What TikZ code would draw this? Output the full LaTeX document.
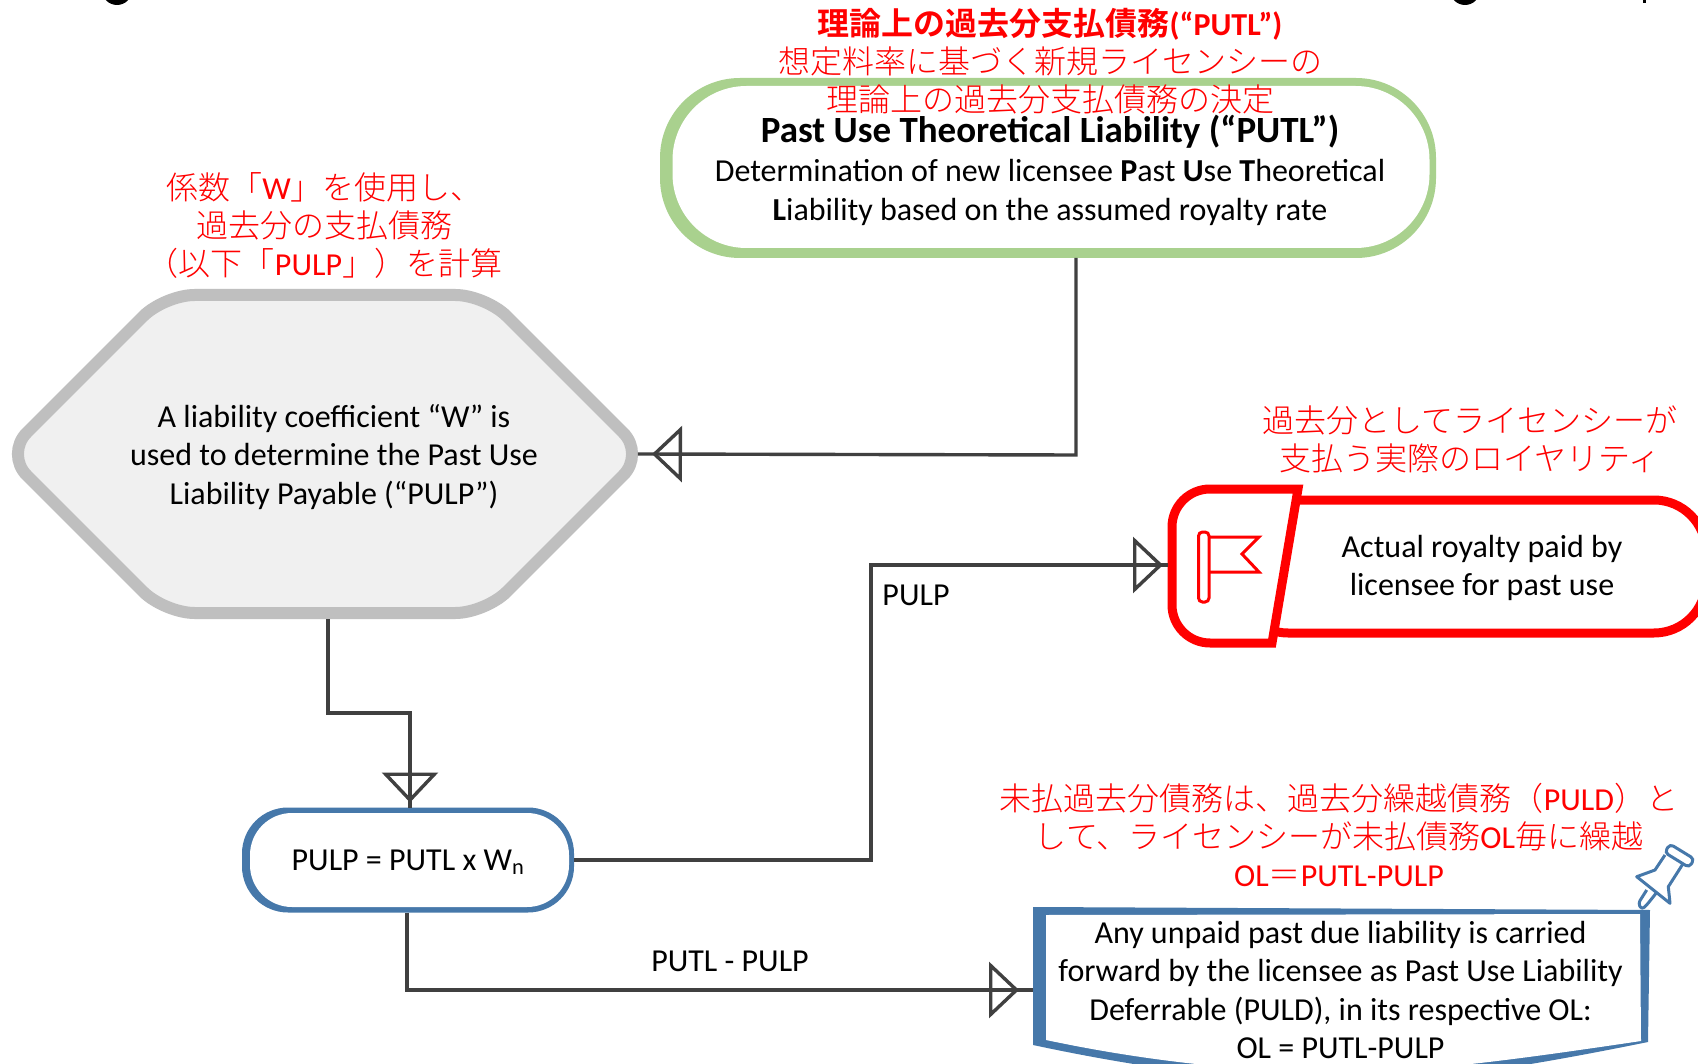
\documentclass[tikz,border=0pt]{standalone}
\usepackage{fontspec}
\setmainfont{Carlito}
\newfontfamily\cjk[BoldFont={Noto Sans CJK JP Bold}]{Noto Sans CJK JP Light}
\usetikzlibrary{arrows.meta,decorations.markings,shapes.symbols}
\definecolor{lgreen}{RGB}{169,209,142}
\definecolor{lblue}{RGB}{70,120,170}
\definecolor{lgray}{RGB}{191,191,191}
\definecolor{sgray}{RGB}{240,240,240}
\definecolor{dgray}{RGB}{64,64,64}
\definecolor{lred}{RGB}{255,0,0}
\tikzset{
  blacktext/.style={align=center,font=\fontsize{32}{38.4}\selectfont,text=black},
  redtext/.style={align=center,font=\fontsize{32}{38}\selectfont,text=lred},
  flowline/.style={draw=dgray,line width=3.4pt,postaction={decorate},
    decoration={markings,mark=at position -#1 with {\arrow{Triangle[open,length=30pt,width=56pt,line width=3.4pt]}}}},
  flowline/.default=5pt,
  linelabel/.style={font=\fontsize{32}{38}\selectfont,text=black},
  outerbox/.style={fill=#1,inner sep=0pt,outer sep=0pt},
  innerbox/.style={fill=white,inner sep=0pt,outer sep=0pt}
}
\begin{document}
\begin{tikzpicture}[x=1pt,y=-1pt]
  \clip (0,0) rectangle (1698,1064);
  \fill[white] (0,0) rectangle (1698,1064);

  % cut off title
  \fill (117,-10) circle (15);
  \fill (1465,-10) circle (15);
  \fill (1643,0) rectangle (1646,3);

  % theoretical liability
  \node (putl) [outerbox=lgreen,rounded corners=80pt,minimum width=776pt,minimum height=180pt] at (1048,168) {};
  \node (putlin) [innerbox,rounded corners=74pt,minimum width=757pt,minimum height=162pt] at (1051,167) {};
  \node (putltext) [blacktext] at (1050,170) {{\fontsize{37}{41}\selectfont\bfseries Past Use Theoretical Liability (“PUTL”)}\\[1pt]
    Determination of new licensee \textbf{P}ast \textbf{U}se \textbf{T}heoretical\\
    \textbf{L}iability based on the assumed royalty rate};
  \node (putlred) [redtext] at (1050,61) {{\bfseries\cjk 理論上の過去分支払債務}\textbf{(“PUTL”)}\\
    {\cjk 想定料率に基づく新規ライセンシーの}\\
    {\cjk 理論上の過去分支払債務の決定}};

  % coefficient
  \node (coef) [signal,signal to=east and west,signal pointer angle=90,rounded corners=30pt,
    draw=lgray,fill=sgray,line width=12pt,minimum width=639pt,minimum height=318pt,inner sep=0pt,outer sep=6pt] at (325,454) {};
  \node (coeftext) [blacktext] at (334,457) {A liability coefficient “W” is\\used to determine the Past Use\\Liability Payable (“PULP”)};
  \node (coefred) [redtext] at (324.5,226) {{\cjk 係数「}W{\cjk 」を使用し、}\\
    {\cjk 過去分の支払債務}\\
    {\cjk （以下「}PULP{\cjk 」）を計算}};

  % formula
  \node (pulp) [outerbox=lblue,rounded corners=46pt,minimum width=332pt,minimum height=105pt] at (408,860) {};
  \node (pulpin) [innerbox,rounded corners=42pt,minimum width=319pt,minimum height=94pt] at (409.5,860) {};
  \node (pulptext) [blacktext] at (408,862) {PULP = PUTL x W\textsubscript{n}};

  % royalty
  \node (royalty) [draw=lred,line width=9pt,fill=white,rounded corners=52pt,minimum width=470pt,minimum height=133pt] at (1471,566.5) {};
  \draw[draw=lred,line width=9pt,fill=white] (1298,489) [rounded corners=38pt] -- (1172,489) -- (1172,643) [sharp corners] -- (1272,643) -- cycle;
  \coordinate (flagin) at (1168,565);
  \draw[draw=lred,line width=3pt,rounded corners=4pt] (1198.5,532) rectangle (1209,602);
  \draw[draw=lred,line width=3pt] (1209,537) -- (1259,537) -- (1242,554) -- (1259,572) -- (1209,572);
  \node (royaltytext) [blacktext] at (1482,568) {Actual royalty paid by\\licensee for past use};
  \node (royaltyred) [redtext] at (1470,439) {{\cjk 過去分としてライセンシーが}\\{\cjk 支払う実際のロイヤリティ}};

  % deferred part
  \fill[lblue] (1033,907) -- (1650,910) -- (1648,1042) .. controls (1500,1072) and (1420,1082) .. (1340,1082) .. controls (1250,1082) and (1150,1070) .. (1033,1045) -- cycle;
  \fill[white] (1046,915) -- (1640,914) -- (1641,1041) .. controls (1500,1062) and (1420,1072) .. (1340,1072) .. controls (1250,1072) and (1150,1062) .. (1046,1040) -- cycle;
  \node (puld) [blacktext,minimum width=615pt,outer sep=0pt] at (1340.5,990) {Any unpaid past due liability is carried\\
    forward by the licensee as Past Use Liability\\
    Deferrable (PULD), in its respective OL:\\
    OL = PUTL-PULP};
  \node (puldred) [redtext] at (1339,835) {{\cjk 未払過去分債務は、過去分繰越債務（}PULD{\cjk ）と}\\
    {\cjk して、ライセンシーが未払債務}OL{\cjk 毎に繰越}\\
    OL{\cjk ＝}PUTL-PULP};

  % pin
  \draw[draw=lblue,line width=3pt,line join=round,rounded corners=3pt] (1646.7,890) -- (1638.3,903.3) -- (1641.7,909.5) -- (1646.7,905) -- (1656,893.3);
  \draw[draw=lblue,line width=3pt,line join=round] (1665,855) -- (1655,870) -- (1636.7,876.7) -- (1670,903.3) -- (1668.3,886.7) -- (1683.3,863.3);
  \draw[draw=lblue,line width=3pt,rounded corners=4pt] (1669.9,844) -- (1694.3,859) -- (1689.1,867.5) -- (1664.7,852.5) -- cycle;

  % connectors
  \draw[flowline=14pt] (putl.south -| 1076,0) -- (1076,455) -- ([xshift=-15pt]coef.east);
  \draw[flowline] (coef.south -| 328,0) -- (328,713) -- (410,713) -- (pulp.north -| 410,0);
  \draw[flowline] (pulp.east) -- (871,860) -- (871,565) -- (flagin);
  \draw[flowline=14pt] (pulp.south -| 407,0) -- (407,990) -- (puld.west);
  \node (lblpulp) [linelabel] at (916,595) {PULP};
  \node (lblputl) [linelabel] at (730,961) {PUTL - PULP};
\end{tikzpicture}
\end{document}
